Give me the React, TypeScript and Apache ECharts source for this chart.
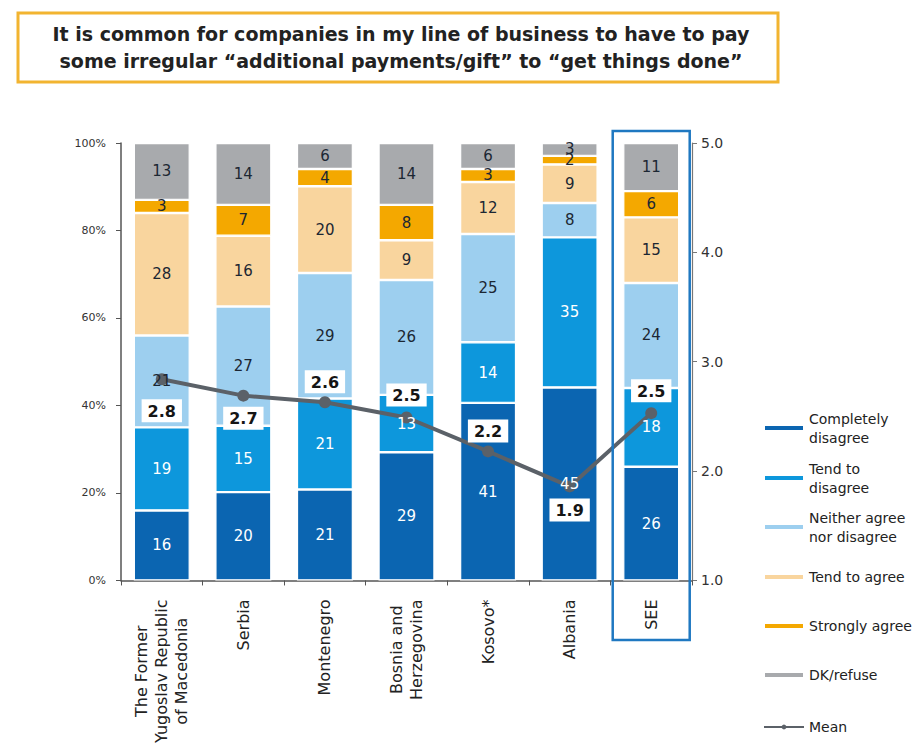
import React, { useEffect, useRef } from "react";
import * as echarts from "echarts";

const categories = [
  "The Former\nYugoslav Republic\nof Macedonia",
  "Serbia",
  "Montenegro",
  "Bosnia and\nHerzegovina",
  "Kosovo*",
  "Albania",
  "SEE",
];
const completelyDisagree = [16, 20, 21, 29, 41, 45, 26];
const tendToDisagree = [19, 15, 21, 13, 14, 35, 18];
const neitherAgree = [21, 27, 29, 26, 25, 8, 24];
const tendToAgree = [28, 16, 20, 9, 12, 9, 15];
const stronglyAgree = [3, 7, 4, 8, 3, 2, 6];
const dkRefuse = [13, 14, 6, 14, 6, 3, 11];
const meanValues = [2.84, 2.69, 2.63, 2.49, 2.18, 1.86, 2.53];

const seriesNames = [
  "Completely\ndisagree",
  "Tend to\ndisagree",
  "Neither agree\nnor disagree",
  "Tend to agree",
  "Strongly agree",
  "DK/refuse",
];
const meanName = "Mean";
const titleText =
  "It is common for companies in my line of business to have to pay\nsome irregular \u201cadditional payments/gift\u201d to \u201cget things done\u201d";

const barColors = ["#0b65b1", "#0d97dc", "#9dcfef", "#f9d59e", "#f4a800", "#a8aaad"];
const barLabelColors = ["#ffffff", "#ffffff", "#1c2733", "#1c2733", "#1c2733", "#1c2733"];
const meanLabelPos = ["bottom", "bottom", "top", "top", "top", "bottom", "top"];
const meanLabelDist = [14, 5, 3, 5, 3, 6, 5];
const legendIconY = [428, 478, 527, 577, 626, 675, 727];

const FONT = '"DejaVu Sans", Verdana, sans-serif';

export default function App() {
  const ref = useRef<HTMLDivElement>(null);

  useEffect(() => {
    if (!ref.current) return;
    const chart = echarts.init(ref.current, null, { renderer: "svg" });
    const barData = [
      completelyDisagree,
      tendToDisagree,
      neitherAgree,
      tendToAgree,
      stronglyAgree,
      dkRefuse,
    ];
    const totals = categories.map((_, i) =>
      barData.reduce((s, arr) => s + arr[i], 0)
    );

    // visible coloured stack (no labels)
    const barSeries = barData.map((arr, si) => ({
      type: "bar",
      name: seriesNames[si],
      stack: "total",
      barWidth: 56,
      barGap: "-100%",
      yAxisIndex: 0,
      z: 2,
      data: arr.map((v, i) => (v / totals[i]) * 100),
      itemStyle: { color: barColors[si], borderColor: "#ffffff", borderWidth: 1.2 },
      label: { show: false },
      emphasis: { disabled: true },
    }));

    // transparent twin stack carrying the value labels above the mean line
    const labelSeries = barData.map((arr, si) => ({
      type: "bar",
      name: "labels-" + si,
      stack: "labels",
      barWidth: 56,
      barGap: "-100%",
      yAxisIndex: 0,
      z: 4,
      silent: true,
      data: arr.map((v, i) => (v / totals[i]) * 100),
      itemStyle: { color: "rgba(0,0,0,0)" },
      label: {
        show: true,
        position: "inside",
        formatter: (p: any) => String(arr[p.dataIndex]),
        color: barLabelColors[si],
        fontFamily: FONT,
        fontSize: 15,
      },
      emphasis: { disabled: true },
    }));

    const lineSeries = {
      type: "line",
      name: meanName,
      yAxisIndex: 1,
      z: 3,
      symbol: "circle",
      symbolSize: 12,
      color: "#5b6168",
      lineStyle: { color: "#5b6168", width: 4 },
      itemStyle: { color: "#5b6168" },
      data: meanValues.map((v, i) => ({
        value: v,
        label: {
          show: true,
          position: meanLabelPos[i],
          distance: meanLabelDist[i],
        },
      })),
      label: {
        show: true,
        formatter: (p: any) => Number(p.value).toFixed(1),
        backgroundColor: "#ffffff",
        padding: [4, 6, 3, 6],
        color: "#151515",
        fontWeight: "bold",
        fontSize: 16,
        fontFamily: FONT,
      },
      emphasis: { disabled: true },
    };

    const allNames = [...seriesNames, meanName];
    const legends = allNames.map((n, i) => {
      const twoLine = n.indexOf("\n") >= 0;
      return {
        data: [n],
        orient: "vertical",
        left: 763,
        top: legendIconY[i] - (twoLine ? 28.5 : 9.5),
        padding: 0,
        itemWidth: 40,
        itemHeight: 6,
        itemGap: 0,
        icon: i < 6 ? "rect" : undefined,
        selectedMode: false,
        textStyle: {
          fontFamily: FONT,
          fontSize: 14,
          color: "#222222",
          lineHeight: 19,
          padding: twoLine ? [19, 0, 0, 0] : 0,
        },
      };
    });

    chart.setOption({
      animation: false,
      backgroundColor: "#ffffff",
      grid: { left: 121, right: 226, top: 143, bottom: 161, containLabel: false },
      legend: legends,
      xAxis: {
        type: "category",
        data: categories,
        axisLine: { lineStyle: { color: "#555555", width: 1.5 } },
        axisTick: { show: true, length: 5, lineStyle: { color: "#555555" } },
        axisLabel: {
          rotate: 90,
          margin: 19,
          interval: 0,
          fontFamily: FONT,
          fontSize: 16,
          lineHeight: 20,
          color: "#222222",
          formatter: (v: string) =>
            v
              .split("\n")
              .map((l) => "{c|" + l + "}")
              .join("\n"),
          rich: {
            c: {
              align: "center",
              fontFamily: FONT,
              fontSize: 16,
              lineHeight: 20,
              color: "#222222",
            },
          },
        },
      },
      yAxis: [
        {
          type: "value",
          min: 0,
          max: 100,
          interval: 20,
          position: "left",
          axisLine: { show: true, lineStyle: { color: "#555555", width: 1.5 } },
          axisTick: { show: true, length: 5, lineStyle: { color: "#555555" } },
          splitLine: { show: false },
          axisLabel: {
            formatter: "{value}%",
            fontFamily: FONT,
            fontSize: 11,
            color: "#333333",
            margin: 15,
          },
        },
        {
          type: "value",
          min: 1,
          max: 5,
          interval: 1,
          position: "right",
          axisLine: { show: true, lineStyle: { color: "#777777", width: 1.2 } },
          axisTick: { show: true, length: 5, lineStyle: { color: "#777777" } },
          splitLine: { show: false },
          axisLabel: {
            formatter: (v: number) => v.toFixed(1),
            fontFamily: FONT,
            fontSize: 14,
            color: "#333333",
            margin: 9,
          },
        },
      ],
      series: [...barSeries, lineSeries, ...labelSeries],
      graphic: [
        {
          id: "titleBox",
          type: "rect",
          shape: { x: 18, y: 13, width: 760, height: 69 },
          style: { fill: "#ffffff", stroke: "#f2b430", lineWidth: 3 },
        },
        {
          id: "titleText",
          type: "text",
          style: {
            text: titleText,
            x: 401,
            y: 47,
            align: "center",
            verticalAlign: "middle",
            fontFamily: FONT,
            fontWeight: "bold",
            fontSize: 19,
            lineHeight: 27,
            fill: "#222222",
          },
        },
      ],
    });

    const cx = chart.convertToPixel({ xAxisIndex: 0 }, categories.length - 1) as number;
    const topY = chart.convertToPixel({ yAxisIndex: 0 }, 100) as number;
    chart.setOption({
      graphic: [
        {
          id: "seeBox",
          type: "rect",
          z: 10,
          shape: { x: cx - 38.5, y: topY - 12, width: 77, height: 640 - (topY - 12) },
          style: { fill: "none", stroke: "#1f78c1", lineWidth: 2.5 },
        },
      ],
    });

    return () => chart.dispose();
  }, []);

  return (
    <div
      ref={ref}
      style={{ position: "fixed", left: 0, top: 0, width: 918, height: 746 }}
    />
  );
}
